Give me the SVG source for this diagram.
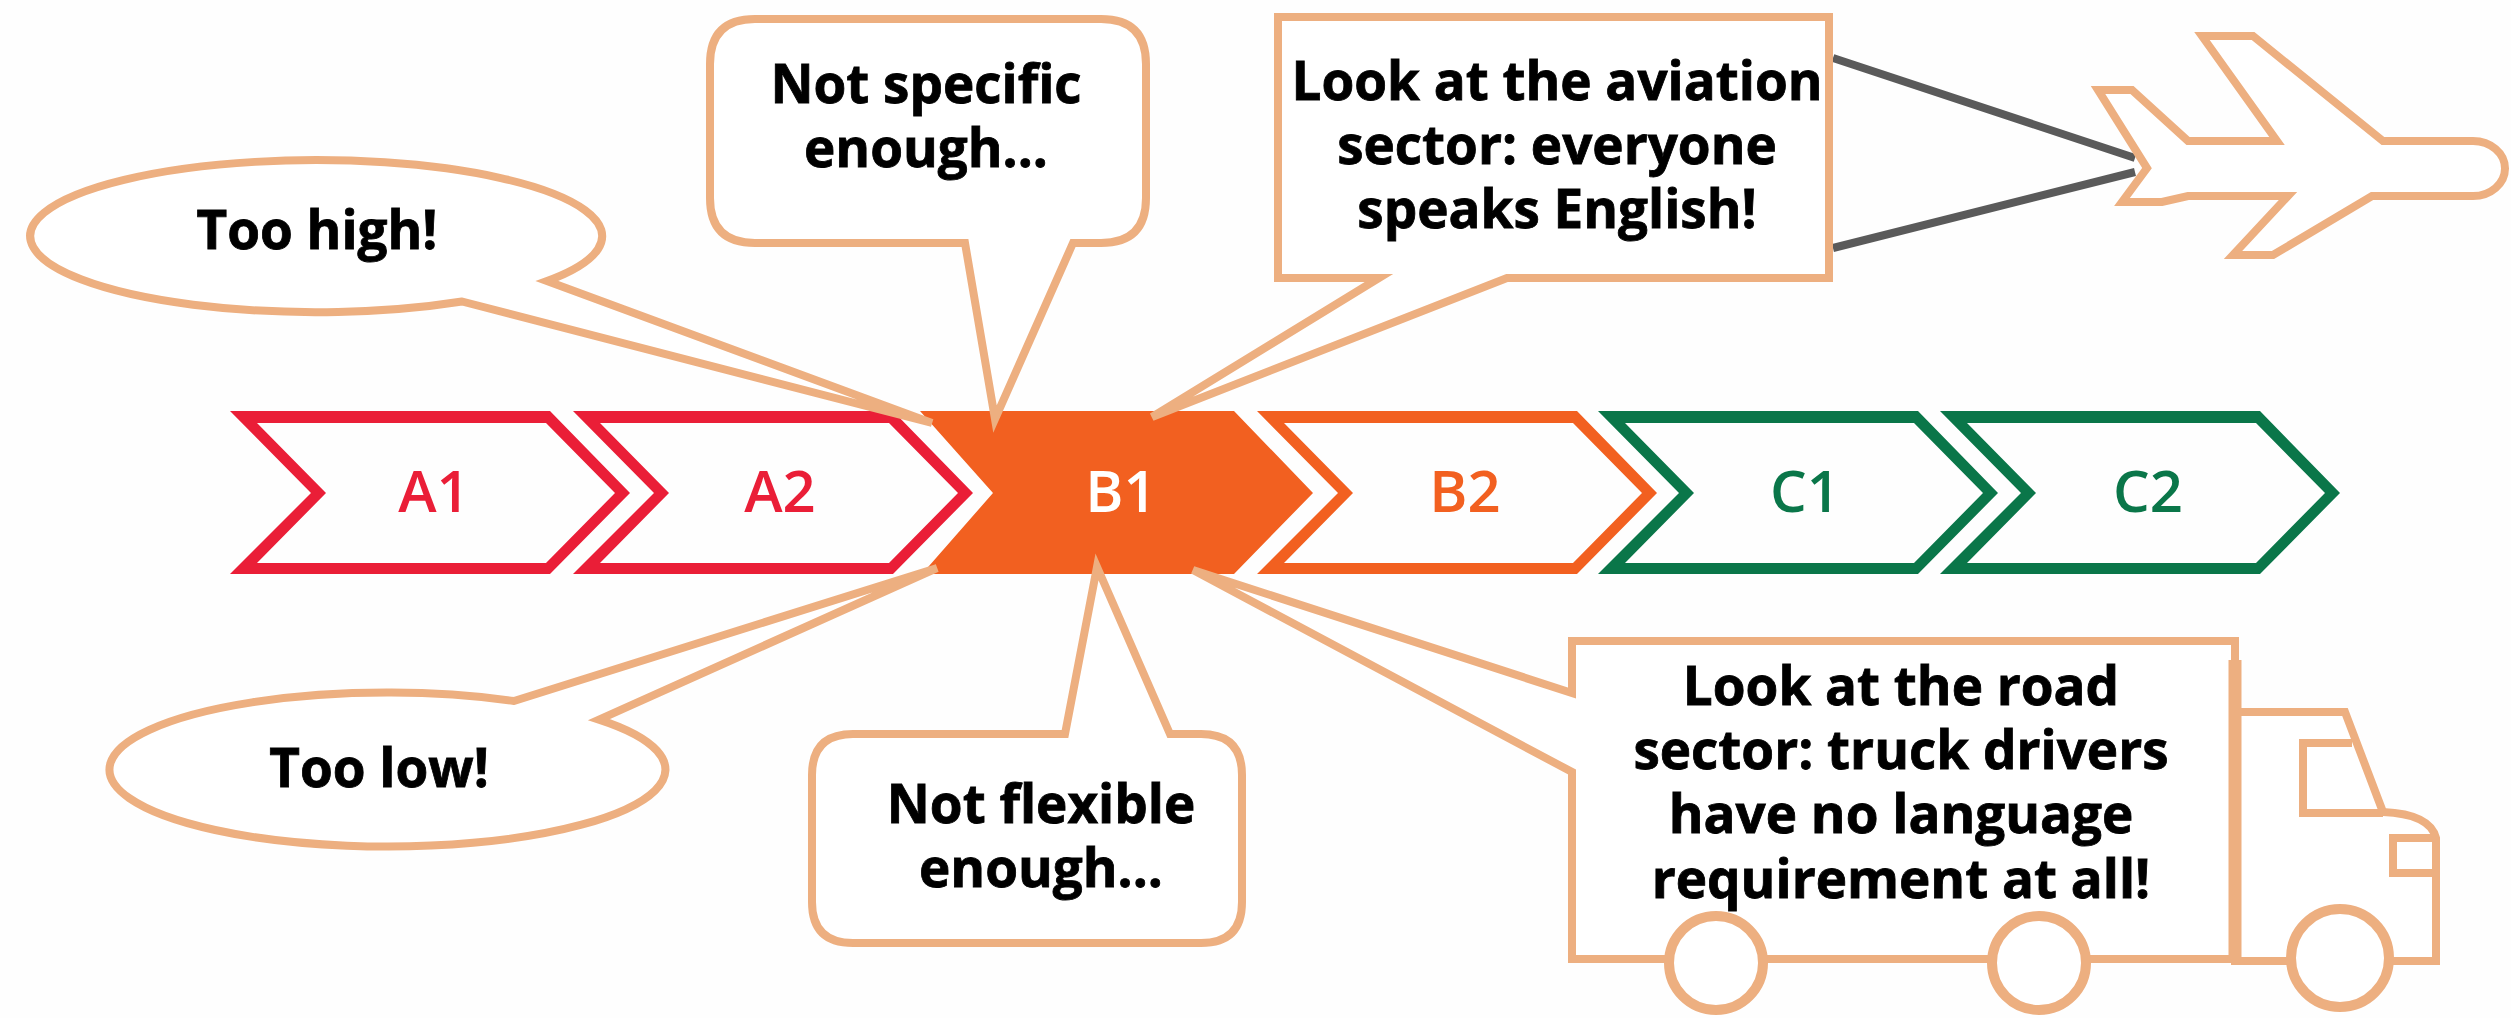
<svg xmlns="http://www.w3.org/2000/svg" width="2511" height="1018" viewBox="0 0 2511 1018">
<style>
.bg{fill:#fefefe}
.o{fill:#fff;stroke:#edaf80;stroke-width:8;stroke-linejoin:miter}
.p{fill:#fff;stroke:#edaf80;stroke-width:8}
.n{fill:none;stroke:#edaf80;stroke-width:8}
.w{fill:#fff;stroke:#edaf80;stroke-width:10}
.t{font-family:"Open Sans","Noto Sans","Liberation Sans",sans-serif;font-weight:700;font-size:53px;text-anchor:middle;fill:#000;stroke:#000;stroke-width:.8}
.l{font-family:"Open Sans","Noto Sans","Liberation Sans",sans-serif;font-weight:600;font-size:58px;text-anchor:middle}
.red{fill:#ea1e37}.org{fill:#f26020}.grn{fill:#0a7649}.wht{fill:#fff}
.c{fill-rule:evenodd}
.con{stroke:#5a5a5a;stroke-width:8;fill:none}
</style>
<defs>
<path id="chev" class="c" d="M0 411H320L400 493L320 574H0L81 493ZM27 423L96 493L27 563H316L385 493L316 423Z"/>
</defs>
<rect class="bg" width="2511" height="1018"/>
<g id="a1"><use href="#chev" x="230" class="red"/><text class="l red" x="434" y="512">A1</text></g>
<g id="a2"><use href="#chev" x="573" class="red"/><text class="l red" x="780" y="512">A2</text></g>
<g id="b1"><polygon class="org" points="920,411 1234,411 1313,493 1234,574 922,574 993,493"/><text class="l wht" x="1121" y="512">B1</text></g>
<g id="b2"><use href="#chev" x="1257" class="org"/><text class="l org" x="1465" y="512">B2</text></g>
<g id="c1"><use href="#chev" x="1598" class="grn"/><text class="l grn" x="1805" y="512">C1</text></g>
<g id="c2"><use href="#chev" x="1940" class="grn"/><text class="l grn" x="2148" y="512">C2</text></g>
<g id="connectors"><path class="con" d="M1833 58L2135 158M1833 248L2135 172"/></g>
<g id="too-high"><path class="o" d="M462 301.500A286 76 0 1 1 547 281L932 423Z"/><text class="t" x="317" y="249">Too high!</text></g>
<g id="not-specific"><path class="o" d="M755 19H1101Q1146 19 1146 64V198Q1146 243 1101 243H1073L995 419L965 243H755Q710 243 710 198V64Q710 19 755 19Z"/><text class="t" x="926" y="103">Not specific</text><text class="t" x="926" y="167">enough...</text></g>
<g id="aviation"><path class="o" d="M1278 17H1829V278H1507L1152 417L1379 278H1278Z"/><text class="t" x="1557" y="100">Look at the aviation</text><text class="t" x="1557" y="164">sector: everyone</text><text class="t" x="1557" y="228">speaks English!</text></g>
<g id="plane"><path class="p" d="M2098 90H2132L2188 141H2277L2202 36H2253L2383 141H2473A32 27.500 0 0 1 2473 196H2372L2273 255H2233L2288 196H2188L2162 202H2122L2147 168Z"/></g>
<g id="too-low"><path class="o" d="M514 701L937 568L599 719.600A278 77 0 1 1 514 701Z"/><text class="t" x="379" y="787">Too low!</text></g>
<g id="not-flexible"><path class="o" d="M853 734H1065L1097 567L1170 734H1201Q1242 734 1242 775V902Q1242 943 1201 943H853Q812 943 812 902V775Q812 734 853 734Z"/><text class="t" x="1041" y="823">Not flexible</text><text class="t" x="1041" y="887">enough...</text></g>
<g id="truck">
<path class="p" d="M2235 712H2345L2383 812Q2430 814 2436 838V961H2235Z"/>
<path class="n" d="M2352 743H2303V813H2383M2433 838H2393V873H2433"/>
<path class="o" d="M1193 570L1572 693V641H2235V959H1572V772Z"/>
<path class="n" d="M2235 660V963" style="stroke-width:13"/>
<circle class="w" cx="1716" cy="963" r="47"/>
<circle class="w" cx="2039" cy="963" r="47"/>
<circle class="w" cx="2340" cy="958" r="49"/>
<text class="t" x="1901" y="705">Look at the road</text><text class="t" x="1901" y="769">sector: truck drivers</text><text class="t" x="1901" y="833">have no language</text><text class="t" x="1901" y="898">requirement at all!</text>
</g>
</svg>
